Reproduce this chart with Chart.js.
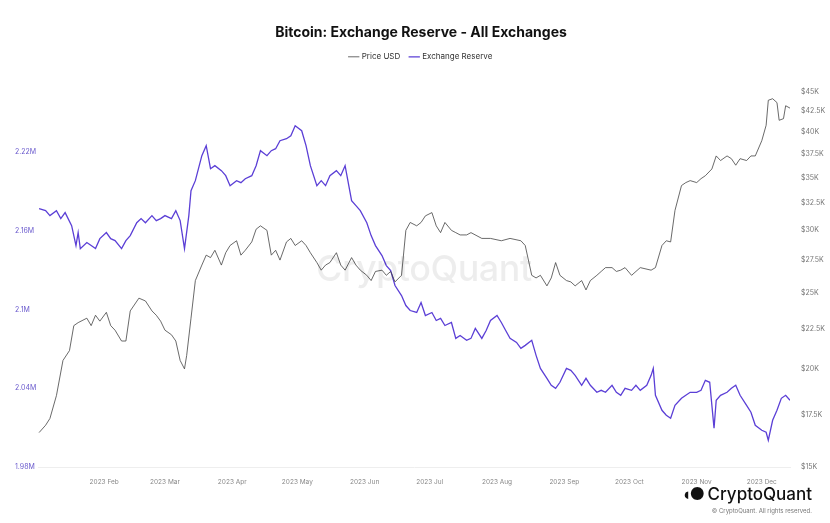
<!DOCTYPE html>
<html><head><meta charset="utf-8">
<script src="https://cdn.jsdelivr.net/npm/chart.js@4/dist/chart.umd.min.js"></script>
<style>
html,body{margin:0;padding:0;background:#fff;font-family:Inter,"Noto Sans",sans-serif;}
#wrap{position:relative;width:830px;height:523px;}
#wm{position:absolute;left:316px;top:246px;font-size:36px;color:rgba(0,0,0,0.07);font-weight:500;letter-spacing:-0.5px;}
#logo{position:absolute;right:18px;top:484px;text-align:right;}
#logo .b{font-size:17px;font-weight:500;color:#111;}
#logo .s{font-size:6px;color:#777;margin-top:2px;}
</style></head><body>
<div id="wrap"><canvas id="c" width="830" height="523"></canvas>
<div id="wm">CryptoQuant</div>
<div id="logo"><div class="b"><span style="font-weight:900;letter-spacing:-2px">◖●</span> CryptoQuant</div><div class="s">© CryptoQuant. All rights reserved.</div></div>
</div>
<script>
const monthDays=[31,59,90,120,151,181,212,243,273,304,334];
const monthLabels=["2023 Feb","2023 Mar","2023 Apr","2023 May","2023 Jun","2023 Jul","2023 Aug","2023 Sep","2023 Oct","2023 Nov","2023 Dec"];
const leftTicks=[1.98,2.04,2.1,2.16,2.22];
const leftTickLabels=["1.98M","2.04M","2.1M","2.16M","2.22M"];
const rightTicks=[15000,17500,20000,22500,25000,27500,30000,32500,35000,37500,40000,42500,45000];
const rightTickLabels=["$15K","$17.5K","$20K","$22.5K","$25K","$27.5K","$30K","$32.5K","$35K","$37.5K","$40K","$42.5K","$45K"];
const priceDays=[1,4,6,9,12,15,17,19,23,25,27,29,32,34,36,39,41,43,47,50,53,55,57,59,62,64,66,68,69,71,73,76,78,80,82,85,87,89,92,94,96,99,101,103,106,108,110,112,115,117,119,122,124,126,129,131,133,135,138,140,142,145,147,149,152,154,156,159,161,163,165,168,170,172,175,177,179,182,184,186,188,191,193,195,198,200,205,209,214,218,223,225,228,230,232,235,237,239,241,244,246,248,251,253,255,258,260,262,265,267,269,271,274,278,283,285,288,290,292,294,297,299,301,304,306,308,311,313,315,318,320,322,324,327,329,331,334,336,337,339,341,342,344,345,347];
const priceUSD=[16.6,16.96,17.3,18.5,20.5,21.1,22.7,22.9,23.2,22.7,23.4,23.0,23.6,22.7,22.4,21.7,21.7,23.7,24.6,24.4,23.7,23.4,23.0,22.4,22.1,21.7,20.5,20.0,20.8,23.2,25.9,27.1,27.9,27.7,28.3,27.1,28.1,28.7,29.1,27.9,28.3,29.0,30.1,30.4,30.0,27.9,28.3,27.5,29.0,29.3,28.7,29.1,28.7,28.1,27.3,26.7,27.1,27.3,28.1,27.1,26.7,27.7,27.1,26.7,26.3,25.9,26.6,26.7,26.3,26.6,25.8,26.3,30.0,30.7,30.4,30.7,31.3,31.6,30.4,29.8,30.7,30.0,29.8,29.6,29.6,29.8,29.3,29.3,29.1,29.3,29.1,28.7,26.3,26.1,26.3,25.5,26.1,27.3,26.3,25.9,25.8,25.5,25.9,25.2,25.9,26.3,26.6,26.9,26.9,26.6,26.7,26.9,26.3,26.9,26.7,26.9,28.7,29.1,29.0,31.8,34.2,34.5,34.7,34.5,34.9,35.2,35.9,37.3,36.8,37.3,37.0,36.3,37.0,36.8,37.3,37.3,39.0,40.8,43.9,44.1,43.6,41.4,41.6,43.2,42.9];
const reserveDays=[1,4,6,9,11,13,16,18,19,20,23,25,27,29,32,34,36,39,41,43,46,48,50,53,55,57,59,62,64,66,68,70,71,73,76,78,80,82,85,87,89,92,94,96,99,101,103,106,108,110,112,115,117,119,122,124,126,129,131,133,135,138,140,142,145,147,149,152,154,156,159,161,163,165,168,170,172,175,177,179,182,184,186,188,191,193,195,198,200,202,205,207,209,212,214,216,218,221,223,225,228,230,232,235,237,239,241,244,246,248,251,253,255,258,260,262,265,267,269,271,274,276,278,281,283,284,285,288,290,292,294,297,299,301,304,306,308,310,312,313,315,318,320,322,324,327,329,331,334,336,337,339,341,343,345,347];
const reserveM=[2.1767,2.1752,2.1714,2.1752,2.1691,2.1737,2.1638,2.1486,2.1585,2.1463,2.1509,2.1486,2.1463,2.1539,2.1585,2.1539,2.1524,2.1463,2.1524,2.1562,2.1660,2.1691,2.1660,2.1714,2.1676,2.1691,2.1714,2.1691,2.1752,2.1676,2.1463,2.1714,2.1904,2.1980,2.2170,2.2246,2.2071,2.2094,2.2056,2.2018,2.1942,2.1980,2.1965,2.1995,2.2018,2.2094,2.2208,2.2170,2.2208,2.2223,2.2284,2.2299,2.2322,2.2398,2.2360,2.2246,2.2094,2.1942,2.1980,2.1942,2.2018,2.2056,2.2018,2.2094,2.1828,2.1790,2.1752,2.1660,2.1562,2.1486,2.1410,2.1334,2.1296,2.1182,2.1106,2.1030,2.0992,2.0977,2.1053,2.0954,2.0977,2.0916,2.0932,2.0878,2.0901,2.0780,2.0802,2.0765,2.0780,2.0856,2.0780,2.0840,2.0916,2.0954,2.0901,2.0840,2.0780,2.0749,2.0704,2.0727,2.0765,2.0651,2.0552,2.0476,2.0423,2.0400,2.0446,2.0552,2.0537,2.0499,2.0423,2.0476,2.0423,2.0370,2.0385,2.0370,2.0423,2.0370,2.0347,2.0400,2.0385,2.0423,2.0385,2.0423,2.0499,2.0552,2.0347,2.0233,2.0195,2.0172,2.0271,2.0324,2.0347,2.0370,2.0370,2.0385,2.0461,2.0446,2.0096,2.0309,2.0347,2.0370,2.0400,2.0423,2.0347,2.0271,2.0218,2.0119,2.0081,2.0066,2.0005,2.0157,2.0233,2.0324,2.0347,2.0309];

const priceData=priceDays.map((d,i)=>({x:d,y:priceUSD[i]*1000}));
const reserveData=reserveDays.map((d,i)=>({x:d,y:reserveM[i]}));
const font={family:"Inter, 'Noto Sans', sans-serif",size:7};
const legendSpace={id:'legendSpace',beforeInit(chart){const f=chart.legend.fit;chart.legend.fit=function(){f.call(this);this.height+=21;};}};
new Chart(document.getElementById('c'),{
 type:'line',
 data:{datasets:[
  {label:'Price USD',data:priceData,yAxisID:'yR',borderColor:'#444',borderWidth:0.8,pointRadius:0,tension:0},
  {label:'Exchange Reserve',data:reserveData,yAxisID:'yL',borderColor:'#5b3fd6',borderWidth:1.3,pointRadius:0,tension:0}
 ]},
 plugins:[legendSpace],
 options:{responsive:false,animation:false,
  layout:{padding:{left:15,right:3,top:24,bottom:34}},
  plugins:{
   title:{display:true,text:'Bitcoin: Exchange Reserve - All Exchanges',color:'#111',font:{family:"Inter, sans-serif",size:14,weight:'bold'},padding:{top:0,bottom:2}},
   legend:{labels:{usePointStyle:true,pointStyle:'line',boxWidth:8,color:'#333',font:{family:"Inter, sans-serif",size:8}}},
   tooltip:{enabled:false}
  },
  scales:{
   x:{type:'linear',min:0.5,max:347,grid:{display:false},border:{color:'#eee'},
      afterBuildTicks:a=>{a.ticks=monthDays.map(v=>({value:v}));},
      ticks:{autoSkip:false,maxRotation:0,color:'#888',font:{...font,size:6.5},callback:(v)=>monthLabels[monthDays.indexOf(v)]}},
   yL:{type:'linear',position:'left',min:1.98,max:2.2656,grid:{display:false},border:{display:false},
      afterBuildTicks:a=>{a.ticks=leftTicks.map(v=>({value:v}));},
      afterFit:a=>{a.width=23;},
      ticks:{color:'#6a5acd',font,padding:0,crossAlign:'far',callback:(v)=>leftTickLabels[leftTicks.indexOf(v)]}},
   yR:{type:'logarithmic',position:'right',min:15000,max:45000,grid:{display:false},border:{display:false},
      afterBuildTicks:a=>{a.ticks=rightTicks.map(v=>({value:v}));},
      afterFit:a=>{a.width=37;},
      ticks:{color:'#777',font,padding:3,callback:(v)=>rightTickLabels[rightTicks.indexOf(v)]}}
  }
 }
});
</script></body></html>
